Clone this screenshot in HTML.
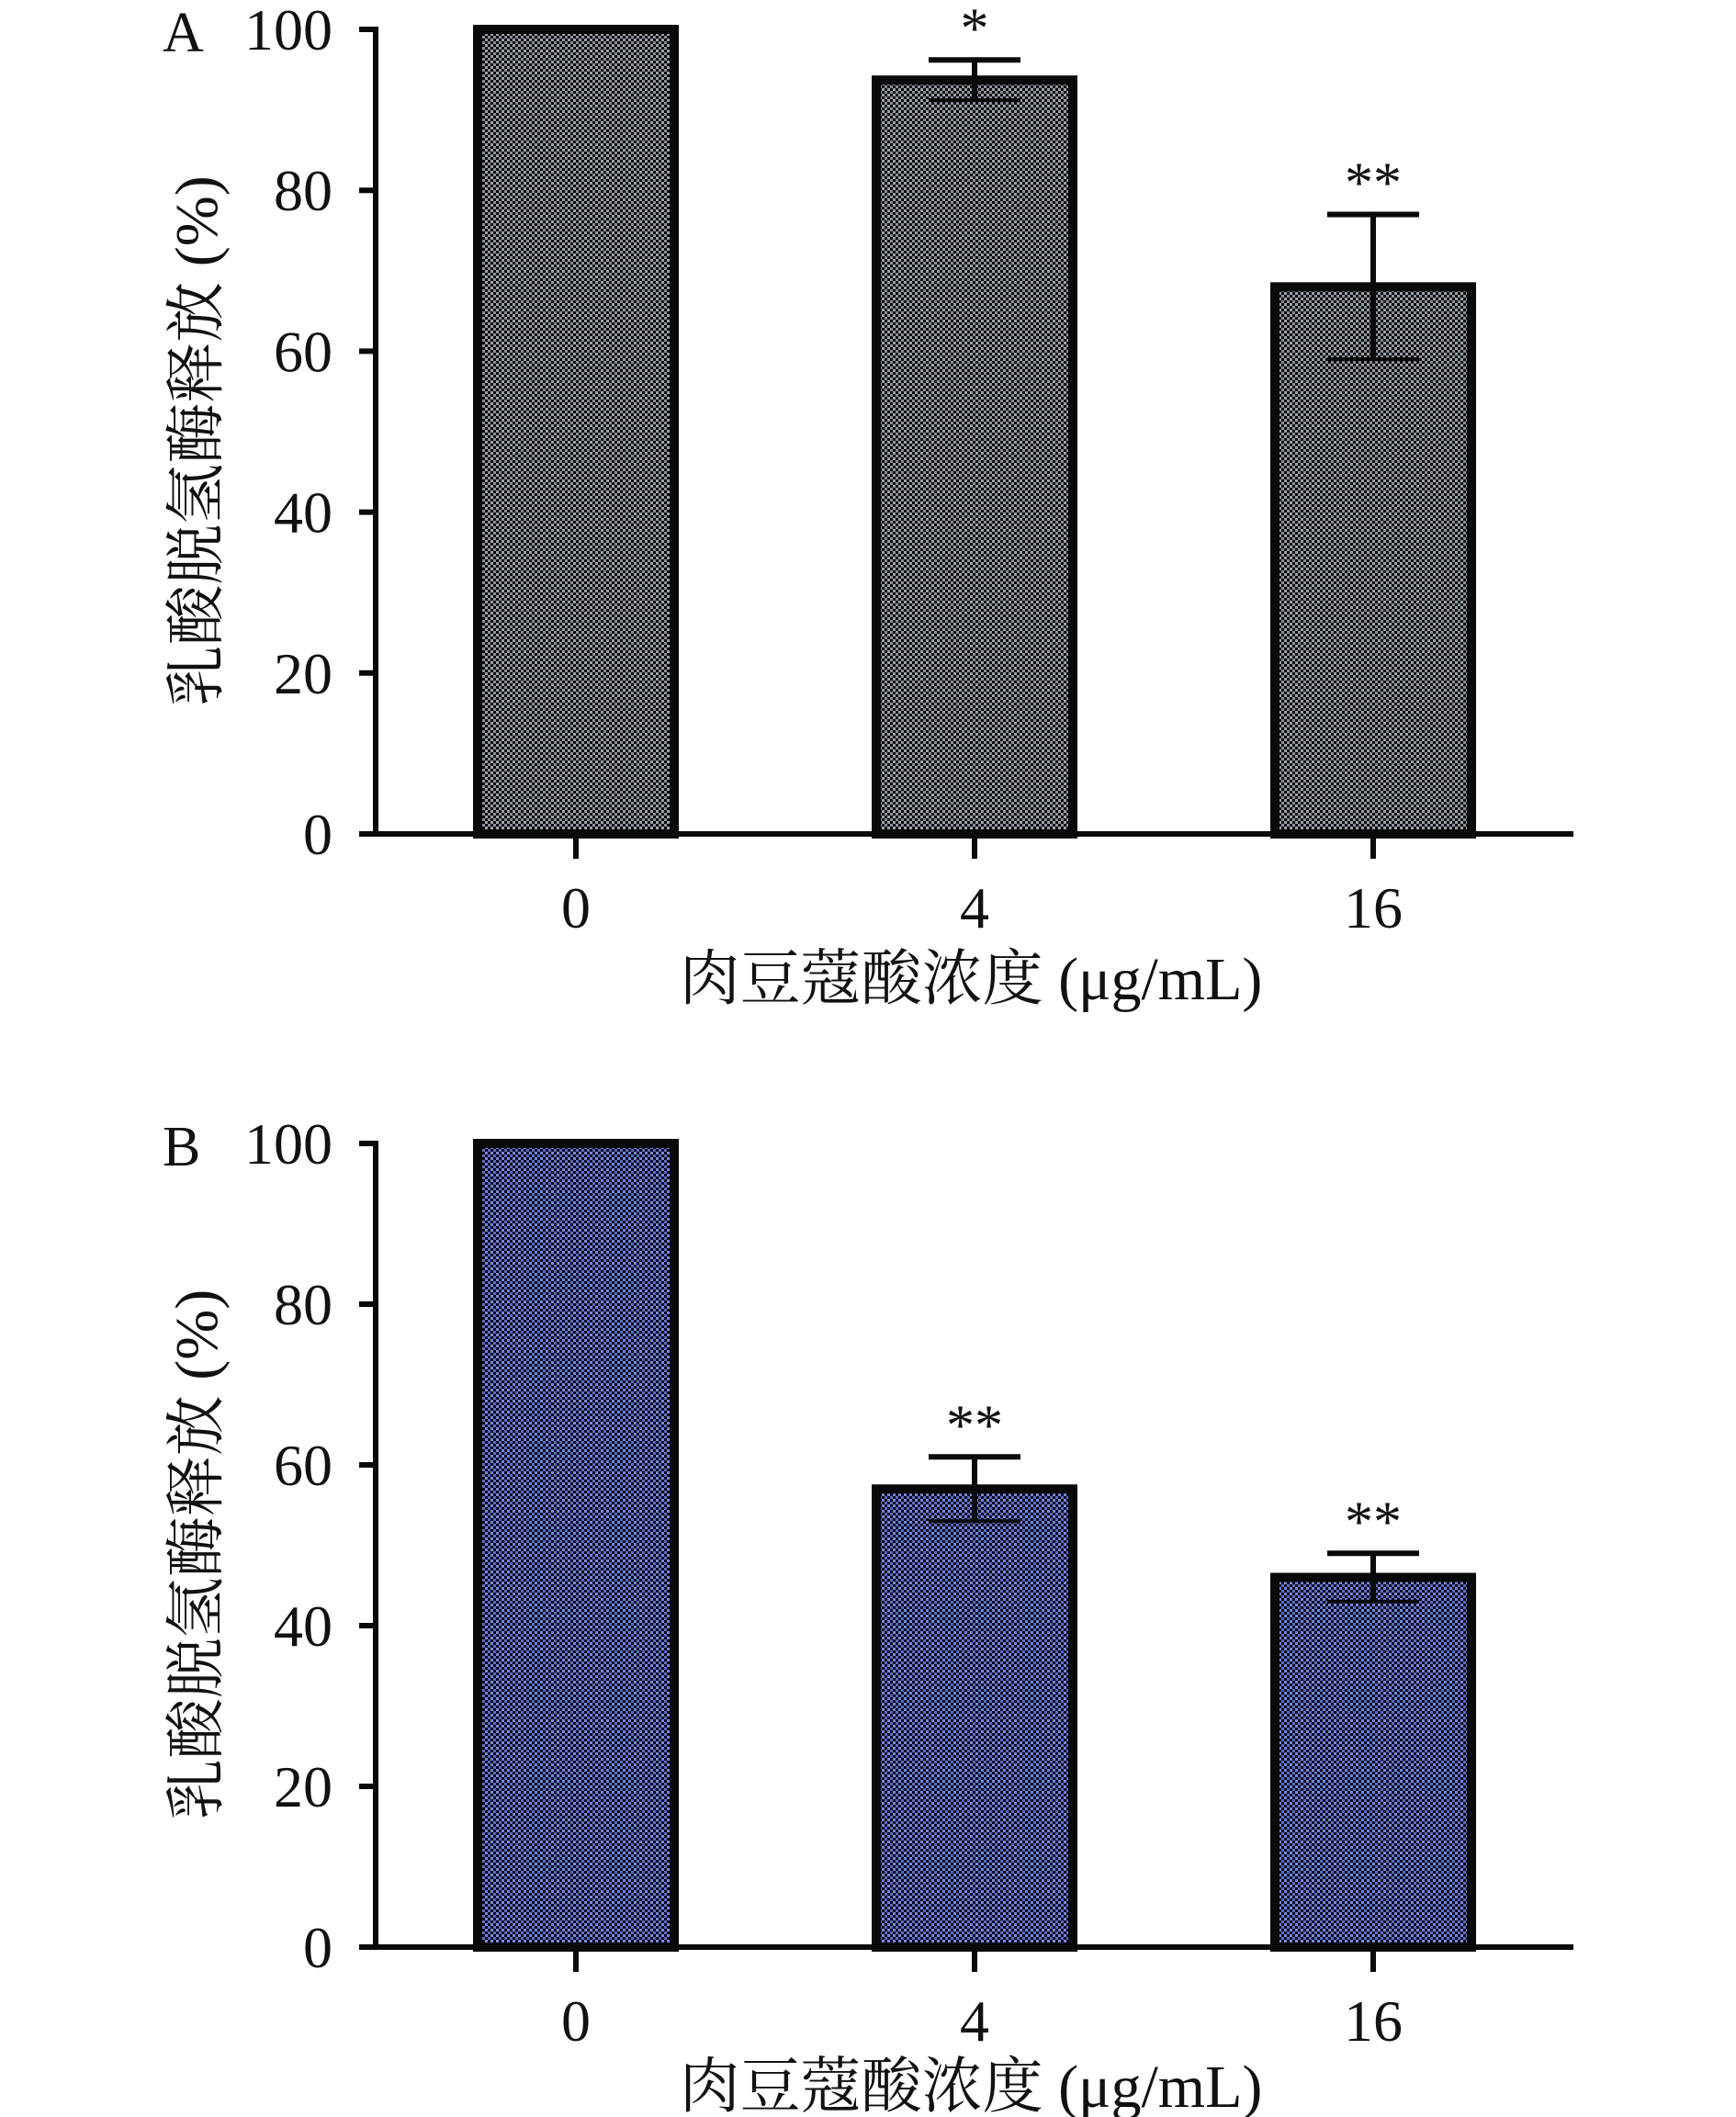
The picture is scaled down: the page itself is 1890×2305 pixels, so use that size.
<!DOCTYPE html>
<html><head><meta charset="utf-8"><style>
html,body{margin:0;padding:0;background:#fff;}
svg{display:block;}
text{font-family:"Liberation Serif","Noto Serif CJK SC",serif;fill:#111;}
</style></head><body>
<svg id="chart" width="1890" height="2305" viewBox="0 0 1890 2305" xmlns="http://www.w3.org/2000/svg">
<defs>
<pattern id="patA" width="6" height="6" patternUnits="userSpaceOnUse">
<rect width="6" height="6" fill="#0c0c10"/>
<rect x="0" y="0" width="3" height="3" fill="#9aa2a6"/>
<rect x="3" y="3" width="3" height="3" fill="#8a9096"/>
</pattern>
<pattern id="patB" width="6" height="6" patternUnits="userSpaceOnUse">
<rect width="6" height="6" fill="#0a0a1c"/>
<rect x="0" y="0" width="3" height="3" fill="#7888dc"/>
<rect x="3" y="3" width="3" height="3" fill="#5c6cc4"/>
</pattern>
</defs>
<g id="root"></g>
</svg>
<script>
const categories = ["0", "4", "16"];
const valuesA = [100, 93.7, 68];
const errorsA = [0, 2.5, 9];
const starsA = ["", "*", "**"];
const valuesB = [100, 57, 46];
const errorsB = [0, 4, 3];
const starsB = ["", "**", "**"];
const yTicks = [0, 20, 40, 60, 80, 100];

const NS = "http://www.w3.org/2000/svg";
const root = document.getElementById('root');
function mk(tag, attrs, parent) {
  const e = document.createElementNS(NS, tag);
  for (const k in attrs) e.setAttribute(k, attrs[k]);
  (parent || root).appendChild(e);
  return e;
}

function panel(letter, top, bottom, values, errors, stars, pat, xlabBase, titleBase) {
  const g = mk('g', {});
  
  
  const axisX = 409;
  const y = v => bottom - (bottom - top) * v / 100;
  const xc = i => 627 + i * 434;
  const bw = 214;
  values.forEach((v, i) => {
    const r = mk('rect', {x: xc(i) - bw / 2, y: y(v), width: bw, height: bottom - y(v), fill: 'url(#' + pat + ')', stroke: '#0a0a0a', 'stroke-width': 10}, g);
    
    
  });
  values.forEach((v, i) => {
    if (!errors[i]) return;
    const eg = mk('g', {stroke: '#0a0a0a', 'stroke-width': 6}, g);
    
    
    const hi = y(v + errors[i]), lo = y(v - errors[i]);
    mk('line', {x1: xc(i), x2: xc(i), y1: hi, y2: lo}, eg);
    mk('line', {x1: xc(i) - 50, x2: xc(i) + 50, y1: hi, y2: hi}, eg);
    mk('line', {x1: xc(i) - 50, x2: xc(i) + 50, y1: lo, y2: lo, 'stroke-width': 4}, eg);
    const st = mk('text', {x: xc(i), y: hi - 14, 'font-size': 62, 'text-anchor': 'middle'}, g);
    st.textContent = stars[i];
    
    
  });
  const ya = mk('line', {x1: axisX, x2: axisX, y1: top - 3, y2: bottom + 3, stroke: '#0a0a0a', 'stroke-width': 6}, g);
  
  
  const xa = mk('line', {x1: 391, x2: 1713, y1: bottom, y2: bottom, stroke: '#0a0a0a', 'stroke-width': 6}, g);
  
  
  yTicks.forEach(t => {
    mk('line', {x1: 391, x2: axisX, y1: y(t), y2: y(t), stroke: '#0a0a0a', 'stroke-width': 6}, g);
    const tl = mk('text', {x: 362, y: y(t) + 22, 'font-size': 64, 'text-anchor': 'end'}, g);
    tl.textContent = t;
    
    
  });
  categories.forEach((c, i) => {
    mk('line', {x1: xc(i), x2: xc(i), y1: bottom, y2: bottom + 27, stroke: '#0a0a0a', 'stroke-width': 6}, g);
    const xl = mk('text', {x: xc(i), y: xlabBase, 'font-size': 64, 'text-anchor': 'middle'}, g);
    xl.textContent = c;
    
    
  });
  const xt = mk('text', {x: 1057, y: titleBase, 'font-size': 66, 'text-anchor': 'middle'}, g);
  xt.textContent = '肉豆蔻酸浓度 (μg/mL)';
  
  
  const cy = (top + bottom) / 2;
  const yt = mk('text', {x: 0, y: 0, 'font-size': 66, 'text-anchor': 'middle', transform: 'translate(236,' + (cy + 10) + ') rotate(-90)'}, g);
  yt.textContent = '乳酸脱氢酶释放 (%)';
  
  
  const pl = mk('text', {x: 177, y: top + 24, 'font-size': 62}, g);
  pl.textContent = letter;
  
  
}

panel('A', 32, 908, valuesA, errorsA, starsA, 'patA', 1010, 1088);
panel('B', 1245, 2120, valuesB, errorsB, starsB, 'patB', 2222, 2294);
</script>
</body></html>
